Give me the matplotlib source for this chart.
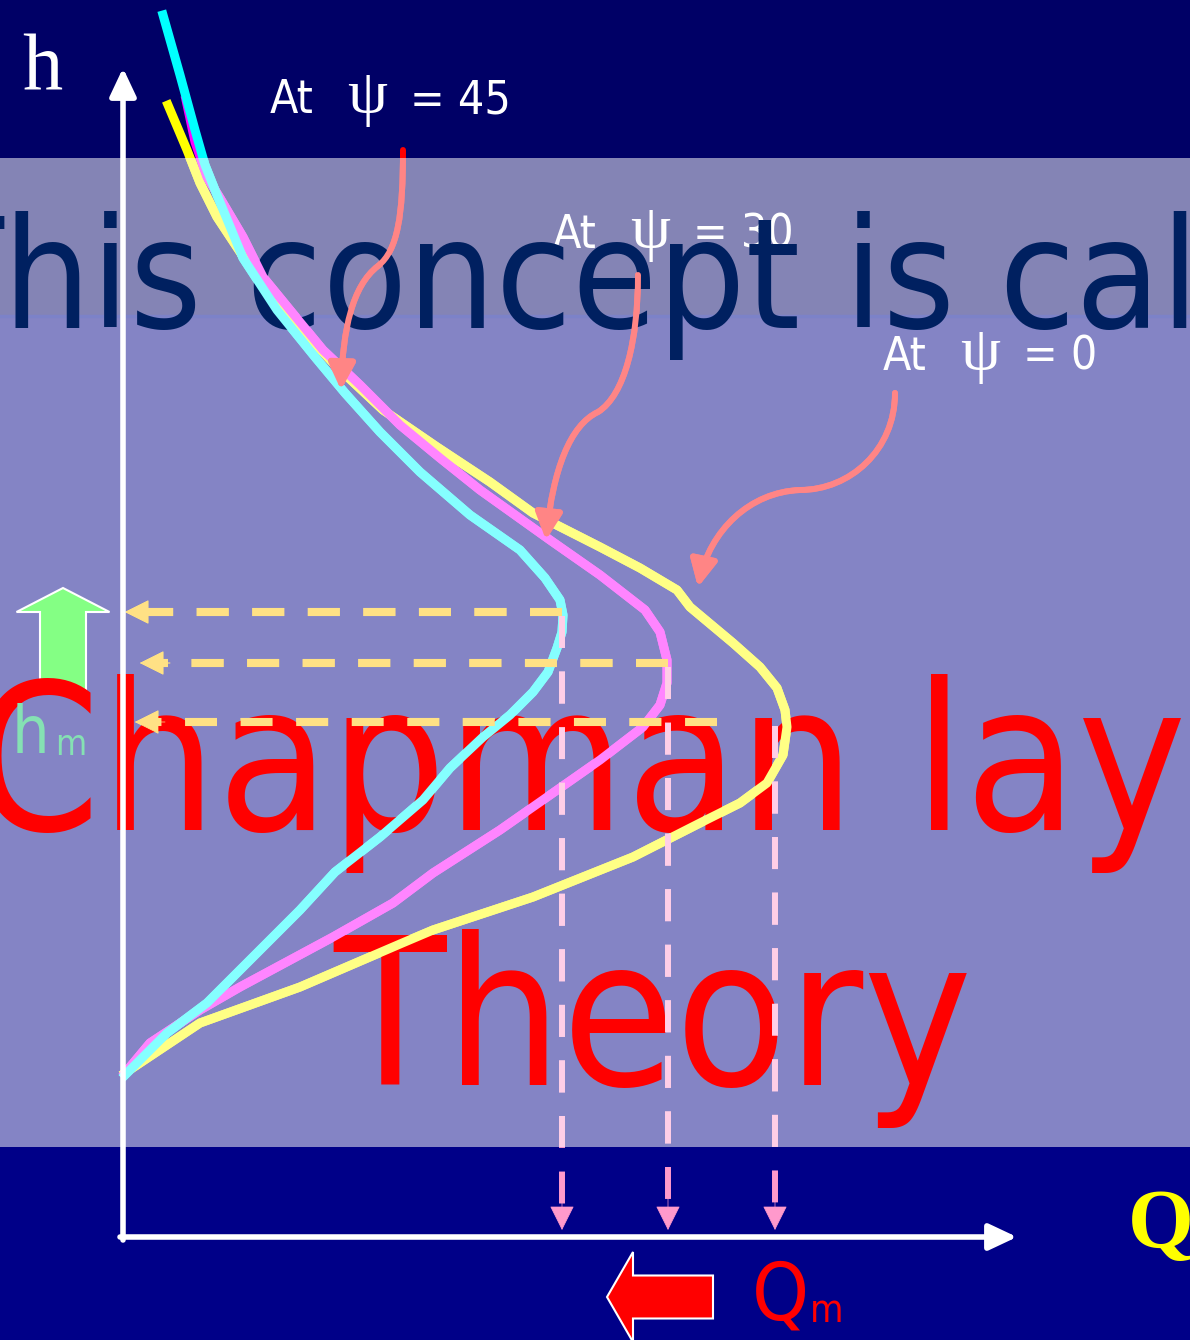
import os
import matplotlib
matplotlib.use("Agg")
import matplotlib.pyplot as plt
import matplotlib.font_manager as fm
from matplotlib.colors import to_rgb
from matplotlib.patches import FancyArrowPatch, FancyArrow, ArrowStyle, Rectangle
from matplotlib.path import Path

plt.rcParams['lines.scale_dashes'] = False

cyan_q = [40, 57, 72, 82, 92, 120, 154, 192, 222, 257, 297, 347, 397, 422, 437, 440,
          439, 434, 425, 410, 387, 360, 327, 300, 257, 212, 177, 127, 84, 44, 2]
cyan_h = [1222, 1162, 1107, 1072, 1047, 979, 927, 880, 844, 805, 765, 722, 687, 659, 637, 622,
          605, 589, 565, 545, 522, 500, 469, 437, 400, 365, 327, 277, 234, 204, 162]

magenta_q = [63, 72, 84, 97, 120, 140, 167, 200, 237, 277, 317, 357, 427, 477, 522, 537,
             544, 544, 537, 520, 477, 427, 377, 310, 270, 210, 117, 77, 27, 2]
magenta_h = [1137, 1095, 1060, 1039, 1000, 960, 927, 887, 852, 812, 779, 747, 697, 662, 627, 605,
             577, 554, 532, 510, 477, 442, 407, 364, 334, 300, 250, 227, 194, 164]

yellow_q = [45, 64, 77, 94, 127, 167, 214, 260, 314, 367, 410, 477, 517, 554, 567, 610,
            637, 654, 662, 664, 660, 644, 617, 577, 510, 410, 310, 277, 177, 77, 2]
yellow_h = [1132, 1087, 1054, 1020, 970, 920, 870, 827, 790, 755, 724, 690, 669, 647, 630, 594,
            570, 549, 527, 510, 482, 454, 434, 414, 380, 340, 307, 293, 250, 214, 164]

# peak of each profile (Q_m, h_m) and the dashed guides to the axes
peak_q = [439, 545, 652]
peak_h = [625, 574, 515]
hline_start_q = [439, 545, 594]
hm_tip_q = [2, 17, 12]

# zenith angle labels and the curved pointers (cubic Bezier control points)
psi_values = ['45', '30', '0']
label_q = [147, 430, 760]
label_h = [1124, 989, 867]
ptr45_q = [280, 280, 275, 255, 229, 220, 218]
ptr45_h = [1087, 1022, 987, 971, 951, 907, 847]
ptr30_q = [515, 515, 502, 475, 447, 430, 423]
ptr30_h = [962, 897, 842, 825, 812, 767, 697]
ptr0_q = [772, 772, 727, 677, 627, 587, 575]
ptr0_h = [844, 787, 747, 747, 745, 707, 650]

BAND_LO, BAND_HI = 90, 1079   # extent of the translucent white layer
ALPHA = 0.52


def find_font(*files):
    for name in files:
        for f in fm.fontManager.ttflist:
            if os.path.basename(f.fname) == name:
                return f.fname
    return None


cond = find_font('DejaVuSansCondensed.ttf', 'LiberationSansNarrow-Regular.ttf')
if cond is None:
    kh = 0.9
elif 'DejaVu' in cond:
    kh = 0.95
else:
    kh = 1.08


def sans(size):
    if cond is None:
        return fm.FontProperties(family='DejaVu Sans', size=size * kh)
    return fm.FontProperties(fname=cond, size=size * kh)


def fade(c):
    return tuple(ALPHA + (1 - ALPHA) * v for v in to_rgb(c))


fig = plt.figure(figsize=(11.9, 13.4), dpi=100)
ax = fig.add_axes([0, 0, 1, 1])
ax.set_xlim(-123, 1067)
ax.set_ylim(-103, 1237)
ax.axis('off')

band = Rectangle((-123, BAND_LO), 1190, BAND_HI - BAND_LO, transform=ax.transData)


def two_tone(make, color, z):
    # full colour under the white layer, washed-out copy above the headline text
    make(color, 0.5)
    art = make(fade(color), z)
    art.set_clip_path(band)


# slide background
ax.axhspan(-103, 919, color='#000088', lw=0, zorder=0)
ax.axhspan(919, 1237, color='#000066', lw=0, zorder=0)

# green "h_m rises" arrow
ax.add_patch(FancyArrow(-60, 547, 0, 102, width=46, head_width=93, head_length=24,
                        length_includes_head=True, facecolor='#00FF00', edgecolor='white',
                        lw=1.5, zorder=0.6))

# translucent layer over the slide body
ax.axhspan(BAND_LO, BAND_HI, color='white', alpha=ALPHA, lw=0, zorder=1)
ax.axhline(921, color='#7C82C8', lw=2.5, zorder=1.1)

for v, q, h in zip(psi_values, label_q, label_h):
    ax.text(q, h, 'At', fontproperties=sans(35), color='white', zorder=1.5)
    ax.text(q + 77, h, 'ψ', family='Liberation Serif', fontsize=46, color='white', zorder=1.5)
    ax.text(q + 140, h, '= ' + v, fontproperties=sans(35), color='white', zorder=1.5)

# headline text box
renderer = fig.canvas.get_renderer()
big_navy = sans(117)
big_red = sans(155)


def lead(full, rest, prop):
    return (renderer.get_text_width_height_descent(full, prop, ismath=False)[0]
            - renderer.get_text_width_height_descent(rest, prop, ismath=False)[0])


ax.text(-120 - lead('This', 'his', big_navy), 909, 'This concept is called',
        fontproperties=big_navy, color='#002060', zorder=2)
ax.text(-23 - lead('Chapman', 'hapman', big_red), 407, 'Chapman layer',
        fontproperties=big_red, color='#FF0000', zorder=2)
ax.text(210, 152, 'Theory', fontproperties=big_red, color='#FF0000', zorder=2)

# profiles
lw_c = 6.5
for q, h, c, z in [(yellow_q, yellow_h, '#FFFF00', 3.1),
                   (magenta_q, magenta_h, '#FF00FF', 3.2),
                   (cyan_q, cyan_h, '#00FFFF', 3.3)]:
    two_tone(lambda col, zz, q=q, h=h: ax.plot(q, h, color=col, lw=lw_c,
                                                 solid_joinstyle='round', zorder=zz)[0], c, z)

head = ArrowStyle('-|>', head_length=16, head_width=8)

# h_m and Q_m guides
for q0, q, h, tip in zip(hline_start_q, peak_q, peak_h, hm_tip_q):
    two_tone(lambda col, zz, q0=q0, h=h, tip=tip: ax.plot(
        [q0, tip + 20], [h, h], color=col, lw=5.8, dashes=(23, 17),
        solid_capstyle='butt', zorder=zz)[0], '#FFC000', 3.4)
    two_tone(lambda col, zz, h=h, tip=tip: ax.add_patch(FancyArrowPatch(
        (tip + 30, h), (tip, h), mutation_scale=1, arrowstyle=head, color=col, lw=0.5,
        shrinkA=0, shrinkB=0, zorder=zz)), '#FFC000', 3.4)
    two_tone(lambda col, zz, q=q, h=h: ax.plot(
        [q, q], [h - 4, 25], color=col, lw=4.3, dashes=(23, 17), zorder=zz)[0],
        '#FF99CC', 3.5)
    ax.add_patch(FancyArrowPatch((q, 40), (q, 7), mutation_scale=1, arrowstyle=head,
                                 color='#FF99CC', lw=0.5, shrinkA=0, shrinkB=0, zorder=3.5))

# curved pointers
codes = [Path.MOVETO] + [Path.CURVE4] * 6
for pq, ph in [(ptr45_q, ptr45_h), (ptr30_q, ptr30_h), (ptr0_q, ptr0_h)]:
    path = Path(list(zip(pq, ph)), codes)
    two_tone(lambda col, zz, path=path: ax.add_patch(FancyArrowPatch(
        path=path, mutation_scale=1, arrowstyle=head, color=col, lw=4.3,
        joinstyle='round', zorder=zz)), '#FF0000', 3.6)

ax.text(-111, 484, 'h', fontproperties=sans(50), color=fade('#00C060'), zorder=3.7)
ax.text(-68, 482, 'm', fontproperties=sans(27), color=fade('#00C060'), zorder=3.7)

# axes
ax.add_patch(FancyArrowPatch((0, -3), (0, 1169), mutation_scale=1,
                             arrowstyle=ArrowStyle('-|>', head_length=17, head_width=8),
                             color='white', lw=4.0, shrinkA=0, shrinkB=0, zorder=5))
ax.add_patch(FancyArrowPatch((-3, 0), (894, 0), mutation_scale=1,
                             arrowstyle=ArrowStyle('-|>', head_length=17, head_width=8),
                             color='white', lw=4.0, shrinkA=0, shrinkB=0, zorder=5))
ax.text(-101, 1147, 'h', family='Liberation Serif', fontsize=58, color='white', zorder=5)
ax.text(1005, -11, 'Q', family='Liberation Serif', fontweight='bold', fontsize=61,
        color='#FFFF00', zorder=5)

# red "Q_m falls" arrow and label
ax.add_patch(FancyArrow(590, -60, -106, 0, width=43, head_width=90, head_length=26,
                        length_includes_head=True, facecolor='#FF0000', edgecolor='white',
                        lw=1.5, zorder=5))
ax.text(629, -83, 'Q', fontproperties=sans(61), color='#FF0000', zorder=5)
ax.text(687, -85, 'm', fontproperties=sans(29), color='#FF0000', zorder=5)

fig.savefig('out.png', dpi=100)
